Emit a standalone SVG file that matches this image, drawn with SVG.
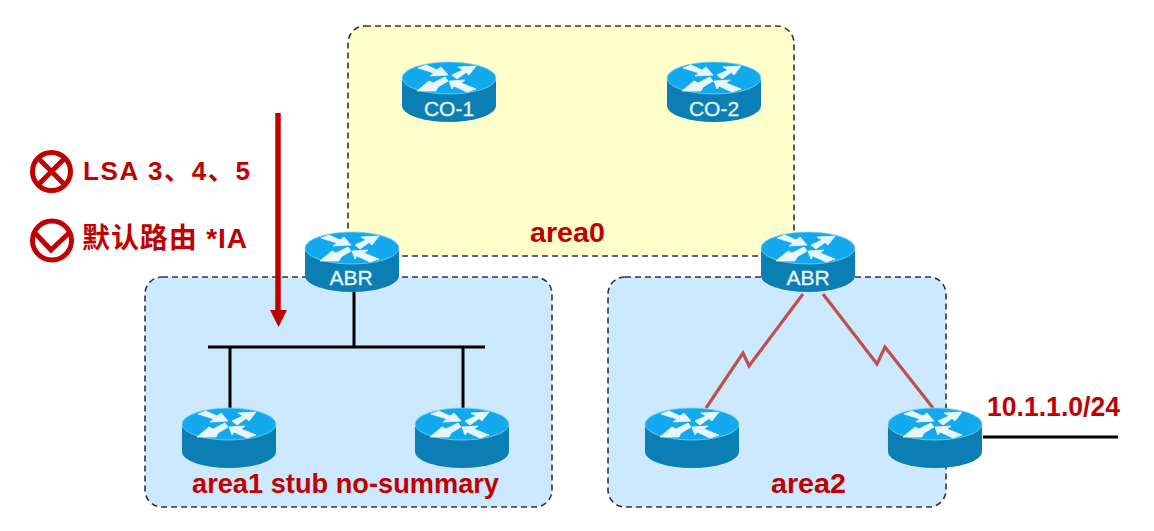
<svg xmlns="http://www.w3.org/2000/svg" xmlns:xlink="http://www.w3.org/1999/xlink" width="1154" height="531" viewBox="0 0 1154 531">
<style>
.area{stroke:#333;stroke-width:1.6;stroke-dasharray:6 4}
.lbl{font-family:"Liberation Sans","Noto Sans CJK SC",sans-serif;font-weight:bold;fill:#c00000;font-size:27px}
.rt{font-family:"Liberation Sans",sans-serif;fill:#e8f6fc;font-size:21px;text-anchor:middle;stroke:#e8f6fc;stroke-width:.3}
.wire{stroke:#000;stroke-width:3;fill:none}
.serial{stroke:#c0504d;stroke-width:3.2;fill:none}
.ic{fill:none;stroke:#c00000;stroke-width:5}
.ar{fill:#e8f6fc;stroke:#e8f6fc;stroke-width:.8;stroke-linejoin:round}
</style>
<defs>
<g id="router">
<path d="M-47 0V28A47 16 0 0 0 47 28V0Z" fill="#0b7fb3"/>
<ellipse rx="47" ry="16" fill="#12a9ee" stroke="#7fd2f2" stroke-width="0.8"/>
<path class="ar" d="M-31-10-23-13-12-8-8-11-1-3-19-2-15-5Z"/>
<path class="ar" d="M3-3 14-8 9-11 27-12 20-3 17-5.5 8 1Z"/>
<path class="ar" d="M-4-1-16 5-20 3-32 13-13 13-11 9-1 3Z"/>
<path class="ar" d="M0 3 16 2 12 5 27 11 18 14 5 8 3 11Z"/>
</g>
</defs>
<rect width="1154" height="531" fill="#fff"/>
<g id="area0"><rect class="area" x="348" y="26" width="446" height="230" rx="17" fill="#ffffcc"/></g>
<g id="area1"><rect class="area" x="145" y="277" width="407" height="230" rx="17" fill="#cce9ff"/></g>
<g id="area2"><rect class="area" x="608" y="277" width="338" height="230" rx="17" fill="#cce9ff"/></g>
<g id="connectors">
<path class="wire" d="M208 347H485M354 290V347M230 347V408M463 347V408M983 437H1118"/>
<path class="serial" d="M803 294 749 366 743 353 706 408"/>
<path class="serial" d="M823 294 877 364 885 347 933 408"/>
<path d="M278 113V314" stroke="#c00000" stroke-width="5.5" fill="none"/>
<path d="M270 310H287L278.500 327Z" fill="#c00000"/>
</g>
<g id="co1"><use xlink:href="#router" href="#router" x="449" y="78"/><text class="rt" x="449" y="116">CO-1</text></g>
<g id="co2"><use xlink:href="#router" href="#router" x="714" y="78"/><text class="rt" x="714" y="116">CO-2</text></g>
<g id="abr1"><use xlink:href="#router" href="#router" x="352" y="248"/><text class="rt" x="351" y="285">ABR</text></g>
<g id="abr2"><use xlink:href="#router" href="#router" x="808" y="248"/><text class="rt" x="808" y="285">ABR</text></g>
<g id="r1"><use xlink:href="#router" href="#router" x="229" y="424"/></g>
<g id="r2"><use xlink:href="#router" href="#router" x="462" y="424"/></g>
<g id="r3"><use xlink:href="#router" href="#router" x="692" y="424"/></g>
<g id="r4"><use xlink:href="#router" href="#router" x="935" y="424"/></g>
<g id="labels">
<text class="lbl" x="530" y="242" textLength="75" lengthAdjust="spacingAndGlyphs">area0</text>
<text class="lbl" x="192" y="493" textLength="307" lengthAdjust="spacingAndGlyphs">area1 stub no-summary</text>
<text class="lbl" x="771" y="493" textLength="75" lengthAdjust="spacingAndGlyphs">area2</text>
<text class="lbl" x="987" y="416" textLength="133" lengthAdjust="spacingAndGlyphs">10.1.1.0/24</text>
<text class="lbl" x="83" y="180" font-size="26" style="font-size:26px" textLength="167" lengthAdjust="spacing">LSA 3、4、5</text>
<text class="lbl" x="82" y="248" style="font-size:28px" textLength="165" lengthAdjust="spacing">默认路由 *IA</text>
</g>
<g id="deny"><circle class="ic" cx="51.5" cy="171.5" r="19"/><path class="ic" d="M38 158 65 185M65 158 38 185"/></g>
<g id="permit"><circle class="ic" cx="52" cy="240.5" r="19.5"/><path class="ic" d="M35 233 51 250 69 233"/></g>
</svg>
